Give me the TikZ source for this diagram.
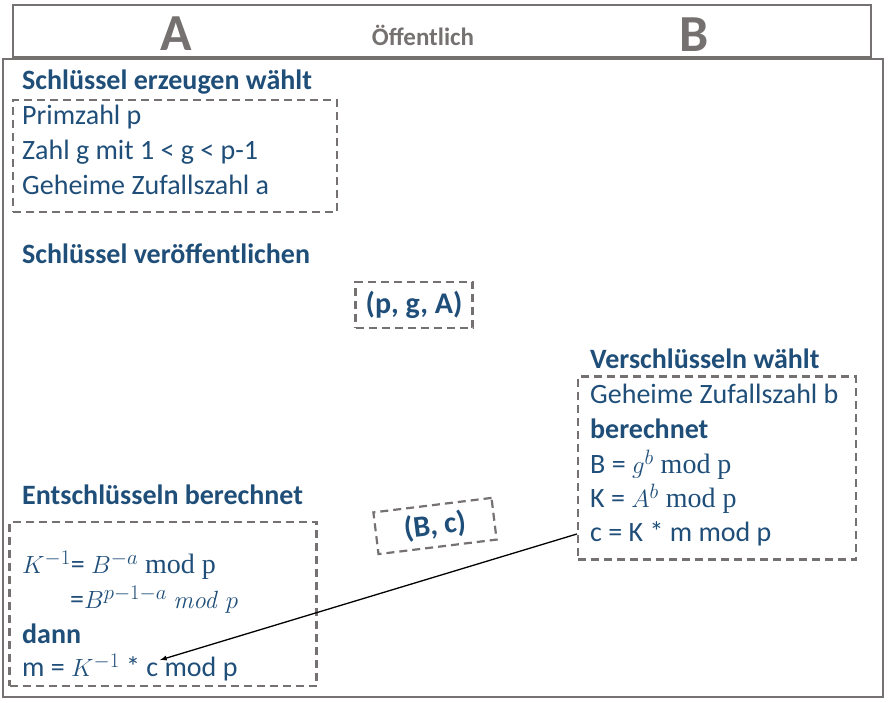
\documentclass[tikz,border=0pt]{standalone}
\usepackage[no-math]{fontspec}
\setmainfont{Carlito}
\newfontfamily\cambriaish{Liberation Serif}
\definecolor{textblue}{HTML}{1F4E79}
\definecolor{framegray}{HTML}{767171}
\tikzset{
  frame/.style={draw=framegray, line width=2.5pt},
  dashbox/.style={draw=framegray, line width=2.2pt, dash pattern=on 8pt off 5pt, inner sep=0pt},
  heading/.style={anchor=west, inner sep=0pt, text=textblue, font=\fontsize{28}{34}\selectfont\bfseries},
  bodytext/.style={anchor=west, inner sep=0pt, text=textblue, font=\fontsize{28}{34}\selectfont},
  pair/.style={dashbox, text=textblue, font=\fontsize{30}{36}\selectfont\bfseries},
  party/.style={inner sep=0pt, text=framegray, font=\fontsize{52}{60}\selectfont\bfseries},
  arrowline/.style={-latex, line width=1.3pt}
}
\newcommand{\modp}{{\cambriaish\ mod p}}
\begin{document}
\begin{tikzpicture}[x=1pt, y=-1pt]
\useasboundingbox (0,0) rectangle (888,703);
% frames
\node[frame, minimum width=858pt, minimum height=52pt] (header) at (442,31) {};
\node[frame, minimum width=880pt, minimum height=638pt] (main) at (443,378) {};
\node[party] (partyA) at (176,34) {A};
\node[inner sep=0pt, text=framegray, font=\fontsize{25}{30}\selectfont\bfseries] (public) at (423,35) {Öffentlich};
\node[party] (partyB) at (694,35) {B};
% key generation (A)
\node[heading] (genhead) at (22,82) {Schlüssel erzeugen wählt};
\node[dashbox, minimum width=324pt, minimum height=112pt] (boxkey) at (175,156) {};
\node[bodytext] (prime) at (22,117) {Primzahl p};
\node[bodytext] (gen) at (22,152) {Zahl g mit 1 < g < p-1};
\node[bodytext] (secreta) at (22,185) {Geheime Zufallszahl a};
% publish
\node[heading] (pubhead) at (22,254) {Schlüssel veröffentlichen};
\node[pair, minimum width=117pt, minimum height=46pt] (boxpub) at (414,305) {(p, g, A)};
% encryption (B)
\node[heading] (enchead) at (590,359) {Verschlüsseln wählt};
\node[dashbox, minimum width=278pt, minimum height=183pt] (boxenc) at (717,468) {};
\node[bodytext] (secretb) at (590,394) {Geheime Zufallszahl b};
\node[heading] (calcb) at (590,429) {berechnet};
\node[bodytext] (encB) at (590,465) {B = $g^b$\modp};
\node[bodytext] (encK) at (590,499) {K = $A^b$\modp};
\node[bodytext] (encc) at (590,534) {c = K * m mod p};
% ciphertext
\node[pair, minimum width=119pt, minimum height=42pt, rotate=7] (boxcipher) at (435,526) {(B, c)};
% decryption (A)
\node[heading] (dechead) at (22,495) {Entschlüsseln berechnet};
\node[dashbox, minimum width=307pt, minimum height=164pt] (boxdec) at (163,604) {};
\node[bodytext] (decK) at (22,565) {$K^{-1}$= $B^{-a}$\modp};
\node[bodytext] (decK2) at (70,600) {=$B^{p-1-a}$ $\mathit{mod}\ p$};
\node[heading] (then) at (22,634) {dann};
\node[bodytext] (decm) at (22,668) {m = $K^{-1}$ * c mod p};
\coordinate (ctip) at (160,660);
\draw[arrowline] (boxenc.west |- encc) -- (ctip);
\end{tikzpicture}
\end{document}
